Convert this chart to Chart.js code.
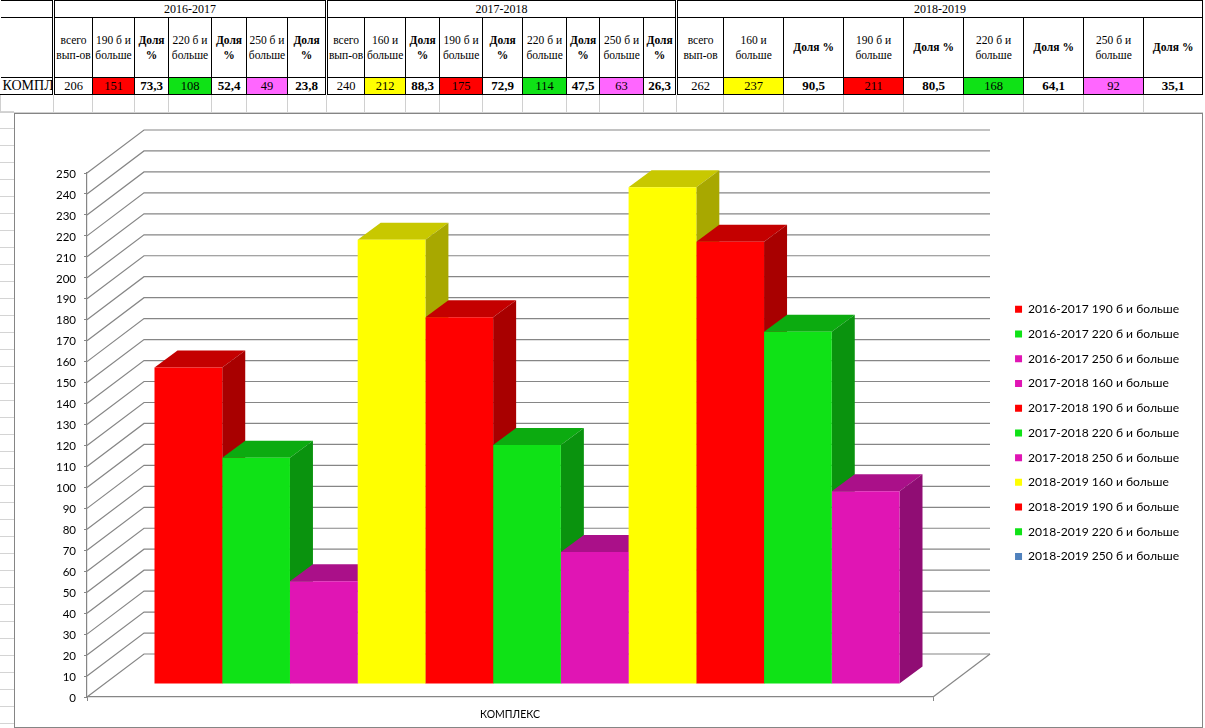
<!DOCTYPE html>
<html>
<head>
<meta charset="utf-8">
<script src="https://cdn.jsdelivr.net/npm/chart.js@4"></script>
<style>
  html, body { margin: 0; padding: 0; background: #fff; overflow: hidden; }
  #page { position: relative; width: 1205px; height: 728px; overflow: hidden; }
  #sheetLeft { position: absolute; left: 0; top: 95px; width: 14px; height: 633px;
    background: repeating-linear-gradient(to bottom, transparent 0, transparent 16px, #d4d4d4 16px, #d4d4d4 17px); }
  #sheetTable { position: absolute; left: 0; top: 0; border-collapse: collapse; table-layout: fixed;
    font-family: "Liberation Serif", serif; color: #000; }
  #sheetTable td { border: 1px solid #000; padding: 0; text-align: center; vertical-align: middle;
    white-space: pre; overflow: hidden; box-sizing: border-box; }
  #sheetTable tr.groups td { height: 17px; font-size: 12px; }
  #sheetTable tr.heads td { height: 60px; font-size: 11.5px; line-height: 15px; }
  #sheetTable tr.vals td { height: 17px; font-size: 12.5px; }
  #sheetTable td.share { font-weight: bold; }
  #sheetTable tr.vals td.share { font-size: 13px; }
  #sheetTable td.dbl { border-left: 3px double #000; }
  #sheetTable td.first { border-left: none; text-align: left; padding-left: 2px; }
  #sheetTable tr.vals td.first { font-size: 14px; }
  #sheetTable tr.blank td { height: 18px; border: none; border-left: 1px solid #d0d0d0; border-bottom: 1px solid #d0d0d0; }
  #chartBox { position: absolute; left: 14px; top: 113px; width: 1189px; height: 615px;
    box-sizing: border-box; border: 1px solid #858585; background: #fff; }
  #chart { position: absolute; left: 0; top: 0; }
</style>
</head>
<body>
<div id="page">
  <div id="sheetLeft"></div>
  <table id="sheetTable"></table>
  <div id="chartBox"></div>
  <canvas id="chart" width="1205" height="728"></canvas>
</div>
<script>
// table
const rowName = 'КОМПЛЕКС';
const colWidths = [53, 39, 42, 34, 43, 35, 41, 39, 38, 41, 34, 43, 40, 44, 33, 44, 33, 47, 60, 60, 60, 60, 60, 60, 60, 59];
const years = ['2016-2017', '2017-2018', '2018-2019'];
const heads2016 = ['всего\nвып-ов', '190 б и\nбольше', 'Доля\n%', '220 б и\nбольше', 'Доля\n%', '250 б и\nбольше', 'Доля\n%'];
const vals2016 = ['206', '151', '73,3', '108', '52,4', '49', '23,8'];
const heads2017 = ['всего\nвып-ов', '160 и\nбольше', 'Доля\n%', '190 б и\nбольше', 'Доля\n%', '220 б и\nбольше', 'Доля\n%', '250 б и\nбольше', 'Доля\n%'];
const vals2017 = ['240', '212', '88,3', '175', '72,9', '114', '47,5', '63', '26,3'];
const heads2018 = ['всего\nвып-ов', '160 и\nбольше', 'Доля %', '190 б и\nбольше', 'Доля %', '220 б и\nбольше', 'Доля %', '250 б и\nбольше', 'Доля %'];
const vals2018 = ['262', '237', '90,5', '211', '80,5', '168', '64,1', '92', '35,1'];

// chart
const categories = ['КОМПЛЕКС'];
const seriesLabels = [
  '2016-2017 190 б и больше', '2016-2017 220 б и больше', '2016-2017 250 б и больше',
  '2017-2018 160 и больше', '2017-2018 190 б и больше', '2017-2018 220 б и больше', '2017-2018 250 б и больше',
  '2018-2019 160 и больше', '2018-2019 190 б и больше', '2018-2019 220 б и больше', '2018-2019 250 б и больше'
];
const seriesValues = [151, 108, 49, 212, 175, 114, 63, 237, 211, 168, 92];
const tickStep = 10;
const tickMax = 250;

const RED = '#ff0000', GREEN = '#0fe216', PURPLE = '#e015b4', YELLOW = '#ffff00', BLUE = '#4f81bd';
const barColors = [RED, GREEN, PURPLE, YELLOW, RED, GREEN, PURPLE, YELLOW, RED, GREEN, PURPLE];
const legendColors = [RED, GREEN, PURPLE, PURPLE, RED, GREEN, PURPLE, YELLOW, RED, GREEN, BLUE];
const topColors = { [RED]: '#c40000', [GREEN]: '#0cab10', [PURPLE]: '#aa1089', [YELLOW]: '#c8c800' };
const sideColors = { [RED]: '#a80000', [GREEN]: '#0a930e', [PURPLE]: '#900d74', [YELLOW]: '#a8a800' };
const cellColors = { '151': RED, '175': RED, '211': RED, '108': GREEN, '114': GREEN, '168': GREEN,
  '49': '#ff66ff', '63': '#ff66ff', '92': '#ff66ff', '212': YELLOW, '237': YELLOW };

function buildTable() {
  const table = document.getElementById('sheetTable');
  const colgroup = document.createElement('colgroup');
  colWidths.forEach(w => {
    const col = document.createElement('col');
    col.style.width = w + 'px';
    colgroup.appendChild(col);
  });
  table.appendChild(colgroup);
  table.style.width = colWidths.reduce((a, b) => a + b, 0) + 'px';

  const addRow = (cls) => {
    const tr = document.createElement('tr');
    tr.className = cls;
    table.appendChild(tr);
    return tr;
  };
  const addCell = (tr, text, cls, span) => {
    const td = document.createElement('td');
    td.textContent = text;
    if (cls) td.className = cls;
    if (span) td.colSpan = span;
    tr.appendChild(td);
    return td;
  };

  const headGroups = [heads2016, heads2017, heads2018];
  const valGroups = [vals2016, vals2017, vals2018];

  const groupRow = addRow('groups');
  addCell(groupRow, '', 'first');
  years.forEach((y, i) => addCell(groupRow, y, 'dbl', headGroups[i].length));

  const headRow = addRow('heads');
  addCell(headRow, '', 'first');
  headGroups.forEach(g => g.forEach((h, j) => {
    addCell(headRow, h, (j === 0 ? 'dbl ' : '') + (h.startsWith('Доля') ? 'share' : ''));
  }));

  const valRow = addRow('vals');
  addCell(valRow, rowName, 'first');
  valGroups.forEach(g => g.forEach((v, j) => {
    const td = addCell(valRow, v, (j === 0 ? 'dbl ' : '') + (v.includes(',') ? 'share' : ''));
    if (cellColors[v]) td.style.background = cellColors[v];
  }));

  const blankRow = addRow('blank');
  colWidths.forEach(() => addCell(blankRow, ''));
}
buildTable();

// depth of the floor and of the bars, in pixels
const wallDx = 57, wallDy = 43;
const barShiftX = 17, barShiftY = 13;
const barDx = 23, barDy = 17;
const lineColor = '#868686';

const fake3d = {
  id: 'fake3d',
  afterLayout(chart) {
    // legend sits apart from the plot, as in the workbook
    const lg = chart.legend;
    lg.left = 1002.4;
    lg.right = 1205;
    lg.top = 290.5;
    lg.bottom = 728;
  },
  beforeDatasetsDraw(chart) {
    const { ctx, chartArea: a, scales } = chart;
    ctx.save();
    ctx.strokeStyle = lineColor;
    ctx.lineWidth = 1.2;
    scales.y.ticks.forEach(t => {
      const y = scales.y.getPixelForValue(t.value);
      ctx.beginPath();
      ctx.moveTo(a.left, y);
      ctx.lineTo(a.left + wallDx, y - wallDy);
      ctx.lineTo(a.right + wallDx, y - wallDy);
      ctx.stroke();
    });
    ctx.beginPath();
    ctx.moveTo(a.right, a.bottom);
    ctx.lineTo(a.right + wallDx, a.bottom - wallDy);
    ctx.stroke();
    ctx.restore();

    // everything bars related is shifted onto the middle of the floor
    ctx.save();
    ctx.translate(barShiftX, -barShiftY);
    chart.data.datasets.forEach((ds, i) => {
      const bar = chart.getDatasetMeta(i).data[0];
      const x1 = bar.x + bar.width / 2, x0 = bar.x - bar.width / 2;
      const c = barColors[i];
      ctx.fillStyle = topColors[c];
      ctx.beginPath();
      ctx.moveTo(x0, bar.y);
      ctx.lineTo(x0 + barDx, bar.y - barDy);
      ctx.lineTo(x1 + barDx, bar.y - barDy);
      ctx.lineTo(x1, bar.y);
      ctx.closePath();
      ctx.fill();
      ctx.fillStyle = sideColors[c];
      ctx.beginPath();
      ctx.moveTo(x1, bar.y);
      ctx.lineTo(x1 + barDx, bar.y - barDy);
      ctx.lineTo(x1 + barDx, bar.base - barDy);
      ctx.lineTo(x1, bar.base);
      ctx.closePath();
      ctx.fill();
    });
  },
  afterDatasetsDraw(chart) {
    chart.ctx.restore();
  }
};

const ctx = document.getElementById('chart').getContext('2d');
new Chart(ctx, {
  type: 'bar',
  data: {
    labels: categories,
    datasets: seriesLabels.map((label, i) => ({
      label: label,
      data: [seriesValues[i]],
      backgroundColor: barColors[i],
      borderWidth: 0,
      clip: false
    }))
  },
  options: {
    responsive: false,
    animation: false,
    devicePixelRatio: 1,
    events: [],
    layout: { padding: { left: 0, top: 173, right: 272, bottom: 0 } },
    datasets: { bar: { categoryPercentage: 745 / 846, barPercentage: 1 } },
    scales: {
      x: {
        afterFit(scale) { scale.height = 31; },
        grid: { drawOnChartArea: false, tickLength: 4, color: lineColor },
        border: { color: lineColor, width: 1.2 },
        ticks: { color: '#000', padding: 7, font: { family: 'Lato', size: 10.5 } }
      },
      y: {
        min: 0,
        max: tickMax,
        afterFit(scale) { scale.width = 87; },
        grid: { drawOnChartArea: false, tickLength: 3, color: lineColor },
        border: { color: lineColor, width: 1.2 },
        ticks: { stepSize: tickStep, autoSkip: false, color: '#000', padding: 8, labelOffset: 1, font: { family: 'Lato', size: 11.5 } }
      }
    },
    plugins: {
      tooltip: { enabled: false },
      title: { display: false },
      legend: {
        position: 'chartArea',
        align: 'start',
        labels: {
          boxWidth: 7,
          boxHeight: 7,
          padding: 12.64,
          color: '#000',
          font: { family: 'Lato', size: 12.1 },
          generateLabels(chart) {
            return seriesLabels.map((text, i) => ({
              text: text,
              fillStyle: legendColors[i],
              strokeStyle: legendColors[i],
              lineWidth: 0,
              datasetIndex: i
            }));
          }
        }
      }
    }
  },
  plugins: [fake3d]
});
</script>
</body>
</html>
